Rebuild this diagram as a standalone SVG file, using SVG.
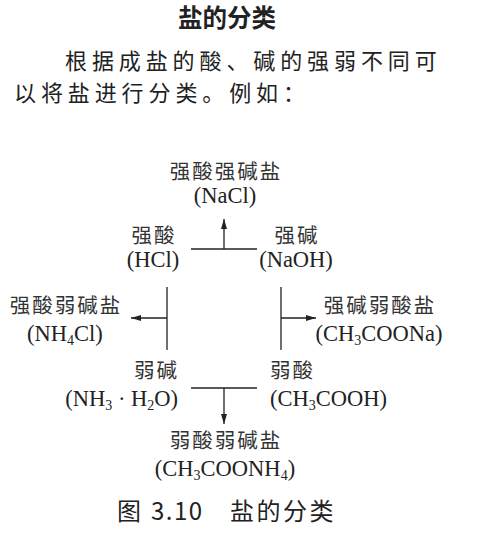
<svg xmlns="http://www.w3.org/2000/svg" width="480" height="539" viewBox="0 0 480 539">
<style>
.cjk{font-family:"Noto Sans CJK SC","Noto Sans",sans-serif;fill:#222}
.lab{font-family:"Noto Sans CJK SC",sans-serif;font-size:20.5px;fill:#333;letter-spacing:2px}
.chem{font-family:"Liberation Serif","Times New Roman",serif;font-size:22.5px;fill:#222}
.sub{font-size:14px}
.ln{stroke:#222;stroke-width:1.3;fill:none}
</style>
<defs>
<marker id="ah" viewBox="0 0 10 6" refX="10" refY="3" markerWidth="10" markerHeight="6" markerUnits="userSpaceOnUse" orient="auto">
<path d="M0,0 L10,3 L0,6 Z" fill="#222"/>
</marker>
</defs>
<rect width="480" height="539" fill="#fff"/>
<g id="header">
<text class="cjk" x="227" y="27" font-size="24.5" font-weight="bold" text-anchor="middle">盐的分类</text>
<text class="cjk" x="65" y="69" font-size="22" letter-spacing="4.9">根据成盐的酸、碱的强弱不同可</text>
<text class="cjk" x="14" y="101" font-size="22" letter-spacing="4.9">以将盐进行分类。例如：</text>
</g>
<g id="connectors">
<line class="ln" x1="191" y1="249" x2="257" y2="249"/>
<line class="ln" x1="224" y1="249" x2="224" y2="219" marker-end="url(#ah)"/>
<line class="ln" x1="167" y1="287" x2="167" y2="350"/>
<line class="ln" x1="167" y1="318" x2="131" y2="318" marker-end="url(#ah)"/>
<line class="ln" x1="281" y1="287" x2="281" y2="350"/>
<line class="ln" x1="281" y1="318" x2="316" y2="318" marker-end="url(#ah)"/>
<line class="ln" x1="191" y1="388" x2="257" y2="388"/>
<line class="ln" x1="224" y1="388" x2="224" y2="424" marker-end="url(#ah)"/>
</g>
<g id="strong-strong">
<text class="lab" x="226" y="179" text-anchor="middle">强酸强碱盐</text>
<text class="chem" x="225" y="203" text-anchor="middle">(NaCl)</text>
</g>
<g id="strong-acid">
<text class="lab" x="154" y="243" text-anchor="middle">强酸</text>
<text class="chem" x="153" y="267" text-anchor="middle">(HCl)</text>
</g>
<g id="strong-base">
<text class="lab" x="297" y="243" text-anchor="middle">强碱</text>
<text class="chem" x="296" y="267" text-anchor="middle">(NaOH)</text>
</g>
<g id="strong-acid-weak-base">
<text class="lab" x="66" y="313" text-anchor="middle">强酸弱碱盐</text>
<text class="chem" x="65" y="341" text-anchor="middle">(NH<tspan class="sub" dy="4">4</tspan><tspan dy="-4">Cl)</tspan></text>
</g>
<g id="strong-base-weak-acid">
<text class="lab" x="380" y="313" text-anchor="middle">强碱弱酸盐</text>
<text class="chem" x="379" y="341" text-anchor="middle">(CH<tspan class="sub" dy="4">3</tspan><tspan dy="-4">COONa)</tspan></text>
</g>
<g id="weak-base">
<text class="lab" x="179" y="378" text-anchor="end">弱碱</text>
<text class="chem" x="178" y="406" text-anchor="end">(NH<tspan class="sub" dy="4">3</tspan><tspan dy="-4"> · H</tspan><tspan class="sub" dy="4">2</tspan><tspan dy="-4">O)</tspan></text>
</g>
<g id="weak-acid">
<text class="lab" x="270" y="378">弱酸</text>
<text class="chem" x="270" y="406">(CH<tspan class="sub" dy="4">3</tspan><tspan dy="-4">COOH)</tspan></text>
</g>
<g id="weak-weak">
<text class="lab" x="226" y="448" text-anchor="middle">弱酸弱碱盐</text>
<text class="chem" x="225" y="476" text-anchor="middle">(CH<tspan class="sub" dy="4">3</tspan><tspan dy="-4">COONH</tspan><tspan class="sub" dy="4">4</tspan><tspan dy="-4">)</tspan></text>
</g>
<g id="caption">
<text class="cjk" y="520" font-size="24"><tspan x="117">图</tspan><tspan x="151" letter-spacing="1.5">3.10</tspan><tspan x="230" letter-spacing="2.5">盐的分类</tspan></text>
</g>
</svg>
